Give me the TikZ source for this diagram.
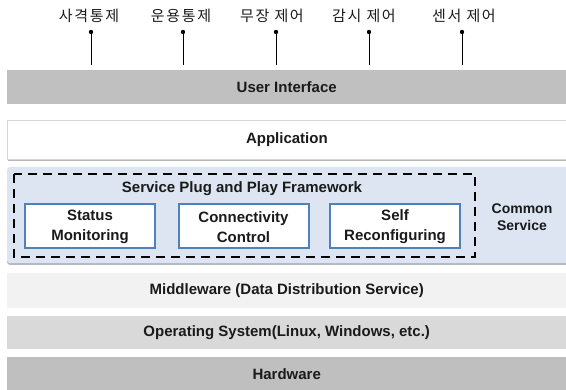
\documentclass[tikz,border=0pt]{standalone}
\usepackage{fontspec}
\setmainfont{Liberation Sans}
\newfontfamily\kr[LetterSpace=11]{Noto Sans CJK KR}
\usetikzlibrary{calc}
\definecolor{uigray}{HTML}{C0C0C0}
\definecolor{appborder}{HTML}{D8D8D8}
\definecolor{appshadow}{HTML}{B8B8B8}
\definecolor{csblue}{HTML}{DCE5F1}
\definecolor{csshadow}{HTML}{B4BAC4}
\definecolor{mwgray}{HTML}{F2F2F2}
\definecolor{osgray}{HTML}{D9D9D9}
\definecolor{hwgray}{HTML}{BFBFBF}
\definecolor{boxblue}{HTML}{4F81BD}
\definecolor{txt}{HTML}{1A1A1A}
\tikzset{
  bar/.style={minimum width=559pt, anchor=north west, inner sep=0pt, font=\bfseries\fontsize{15}{17}\selectfont, text=txt},
  krlabel/.style={font=\kr\fontsize{15}{17}\selectfont, text=txt, inner sep=0pt},
  pinline/.style={draw=black, line width=1pt},
  modbox/.style={draw=boxblue, line width=2pt, fill=white, minimum width=130pt, minimum height=44pt, inner sep=0pt, align=center, font=\bfseries\fontsize{15}{20}\selectfont, text=txt},
  fw/.style={draw=black, line width=2.3pt, dash pattern=on 9pt off 6pt}
}
\begin{document}
\begin{tikzpicture}[x=1pt,y=-1pt]
\useasboundingbox (0,0) rectangle (566,390);
% Korean labels and pins
\foreach \n/\lx/\px/\t in {a/89/91/사격통제, b/181/183/운용통제, c/272/276/무장 제어, d/364/369/감시 제어, e/464/462/센서 제어}{
  \node[krlabel] (lab\n) at (\lx,16) {\t};
  \coordinate (top\n) at (\px,32);
  \coordinate (bot\n) at (\px,65);
  \fill (top\n) circle (2.2pt);
  \draw[pinline] (top\n) -- (bot\n);
}
% User Interface
\node[bar, fill=uigray, minimum height=34pt] (ui) at (7,70) {User Interface};
% Application
\fill[appshadow] (8,122) rectangle (566,161);
\node[bar, fill=white, draw=appborder, line width=0.8pt, minimum height=39pt] (app) at (7,120) {Application};
% Common service
\fill[csshadow, rounded corners=3pt] (7,169) rectangle (570,265);
\fill[csblue, rounded corners=3pt] (7,167) rectangle (570,263);
\node[font=\bfseries\fontsize{14}{17}\selectfont, text=txt, align=center] (cs) at (522,217) {Common\\Service};
\draw[fw] (14,174) rectangle (475,257);
\node[font=\bfseries\fontsize{15}{17}\selectfont, text=txt] (spf) at (242,189) {Service Plug and Play Framework};
\node[modbox] (sm) at (90,226) {\rule{0pt}{13pt}Status\\Monitoring};
\node[modbox] (cc) at (243.5,226) {\rule{0pt}{13pt}Connectivity\\Control};
\node[modbox] (sr) at (395,226) {\rule{0pt}{13pt}Self\\Reconfiguring};
% lower layers
\node[bar, fill=mwgray, minimum height=35pt] (mw) at (7,273) {Middleware (Data Distribution Service)};
\node[bar, fill=osgray, minimum height=33pt] (os) at (7,316) {Operating System(Linux, Windows, etc.)};
\node[bar, fill=hwgray, minimum height=33pt] (hw) at (7,357) {Hardware};
\end{tikzpicture}
\end{document}
